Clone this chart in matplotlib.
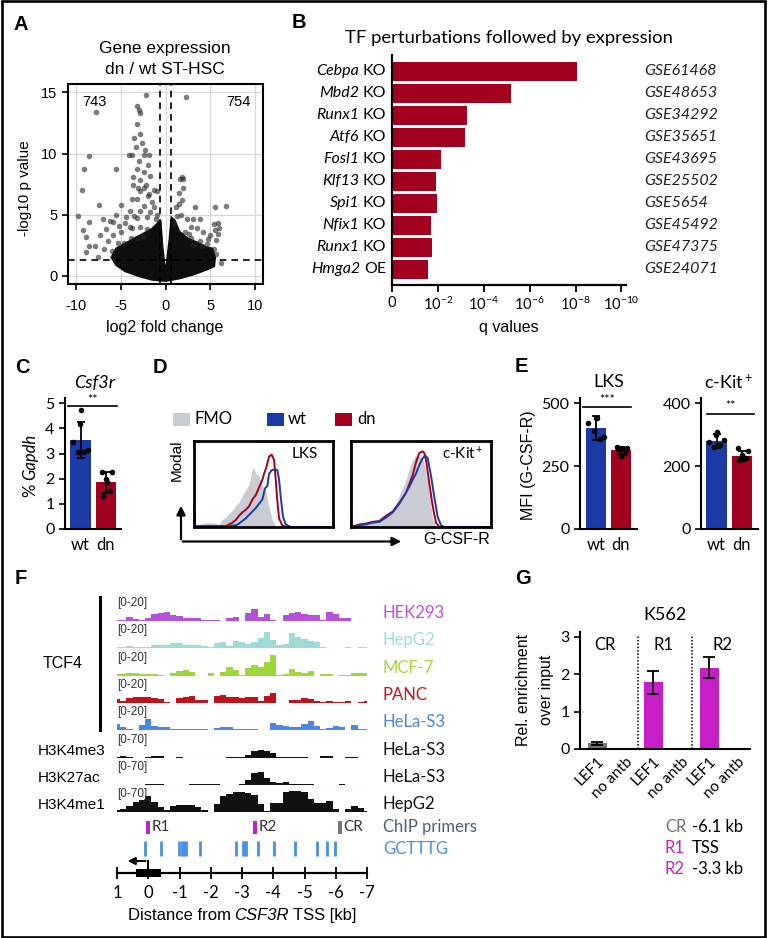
import numpy as np
import matplotlib
matplotlib.use("Agg")
import matplotlib.pyplot as plt
from matplotlib.patches import Rectangle, FancyArrowPatch
from matplotlib.transforms import blended_transform_factory

plt.rcParams['font.family'] = ['Lato', 'DejaVu Sans']
plt.rcParams['axes.unicode_minus'] = False
plt.rcParams['mathtext.fontset'] = 'custom'
plt.rcParams['mathtext.rm'] = 'Lato'
plt.rcParams['mathtext.it'] = 'Lato:italic'
plt.rcParams['mathtext.bf'] = 'Lato:bold'

ARIAL = 'Liberation Sans'
NARROW = ['Liberation Sans Narrow', 'Liberation Sans']

# ---------------- data ----------------
# A: volcano plot, outline of the dense core of genes + individual scattered genes
core_x = [-6.0, -5.5, -4.5, -3.5, -2.5, -1.5, -0.8, -0.6, -0.4, -0.15, 0.0, 0.15, 0.5, 0.7, 1.0,
          1.5, 2.5, 3.5, 4.5, 5.2, 5.5, 5.4, 4.5, 3.0, 1.5, 0.0, -1.5, -3.0, -4.5, -5.5]
core_y = [1.5, 2.2, 2.6, 3.0, 3.4, 3.8, 4.3, 4.5, 2.5, 0.8, 0.3, 0.8, 3.0, 4.7, 4.5,
          3.6, 3.0, 2.7, 2.3, 2.2, 1.5, 0.8, 0.5, 0.1, -0.2, -0.4, -0.3, 0.0, 0.4, 0.9]
vol_x = [-2.2, -7.8, -3.2, -3.0, -2.85, -3.2, -8.6, -9.1, -9.3, -5.55, -9.8, -7.4, -7.0, -9.2, -8.9,
         -8.6, -8.6, -7.9, -8.9, -7.5, -4.07, -3.7, -2.8, -2.6, -3.3, -2.45, -1.9, -3.0, -2.0, -3.2,
         -2.45, -3.65, -2.8, -1.7, -3.1, -2.45, -2.8, -1.0, -2.0, -3.7, -3.2, -1.5, -5.0, -2.45, -4.0,
         -2.8, -1.7, -3.5, -4.4, -3.2, -2.1, -5.55, -5.9, -4.0, -3.7, -2.8, -2.1, -6.6, -5.0, -5.9,
         -3.9, -3.2, -2.5, -6.4, -5.3, -4.6, -6.2, -7.3, -6.9, -6.0, -1.3, -1.1, -0.9, -3.6, -2.2,
         -2.3, -3.5, -1.3, -4.5, -5.2, -1.8,
         2.33, 1.85, 1.6, 2.0, 2.0, 1.5, 1.9, 1.5, 1.2, 3.33, 5.55, 6.8, 1.7, 5.4, 5.9,
         2.4, 3.1, 3.9, 2.8, 3.5, 4.2, 5.55, 5.9, 4.8, 5.7, 3.9, 3.1, 4.1, 5.4, 5.7,
         6.2, 2.6, 2.9, 1.3, 1.0, 2.2, 4.6, 6.0, 5.0]
vol_y = [14.8, 13.4, 13.9, 13.6, 13.3, 12.4, 9.8, 8.7, 7.05, 8.7, 4.86, 5.76, 4.6, 3.77, 3.2,
         4.4, 2.4, 2.4, 1.9, 1.5, 9.9, 9.9, 11.6, 10.9, 10.5, 9.9, 9.9, 9.4, 9.1, 8.7,
         8.5, 8.1, 7.8, 8.2, 7.2, 7.2, 6.9, 6.9, 6.5, 6.3, 6.3, 6.0, 5.8, 5.7, 5.3,
         5.3, 5.2, 4.9, 4.8, 4.7, 4.8, 5.0, 4.4, 4.0, 3.9, 4.0, 3.8, 3.8, 3.6, 3.3,
         3.1, 3.1, 3.2, 2.8, 2.7, 2.7, 4.5, 3.3, 2.2, 2.0, 5.6, 4.6, 5.0, 7.4, 7.4,
         10.3, 11.3, 7.0, 4.3, 4.1, 6.7,
         14.6, 8.1, 7.9, 7.9, 7.2, 6.8, 6.2, 5.9, 5.6, 5.6, 5.6, 5.7, 5.0, 4.2, 4.3,
         4.6, 4.6, 4.6, 4.0, 3.9, 3.6, 3.7, 3.4, 3.0, 2.9, 2.8, 2.5, 2.4, 2.2, 1.8,
         1.0, 3.4, 3.1, 4.9, 4.2, 3.6, 2.6, 3.9, 3.3]
n_down, n_up = 743, 754
fc_cut, p_cut = 0.58, 1.3

# B: TF perturbation enrichment (-log10 q)
tf_genes = ['Cebpa', 'Mbd2', 'Runx1', 'Atf6', 'Fosl1', 'Klf13', 'Spi1', 'Nfix1', 'Runx1', 'Hmga2']
tf_kind = ['KO', 'KO', 'KO', 'KO', 'KO', 'KO', 'KO', 'KO', 'KO', 'OE']
tf_gse = ['GSE61468', 'GSE48653', 'GSE34292', 'GSE35651', 'GSE43695',
          'GSE25502', 'GSE5654', 'GSE45492', 'GSE47375', 'GSE24071']
tf_score = [8.05, 5.17, 3.26, 3.17, 2.13, 1.91, 1.96, 1.70, 1.74, 1.57]

# C: Csf3r qPCR (% Gapdh)
groups = ['wt', 'dn']
csf_mean = [3.55, 1.85]
csf_sd = [0.71, 0.42]
csf_pts = [[4.73, 4.16, 3.47, 3.07, 3.07, 3.13], [2.25, 2.25, 1.85, 1.3, 1.5, 2.0]]

# D: flow histograms (x = % of display range, y = fraction of modal)
lks_fmo_x = [0, 3.6, 8.4, 13.2, 18, 20.4, 22.8, 25.2, 27.6, 30, 32.4, 34.8, 37.2, 39.6, 42, 43.2,
             44.4, 46.8, 49.2, 51.6, 54, 56.4, 58.8, 61.2, 100]
lks_fmo_y = [0.02, 0.03, 0.05, 0.05, 0.03, 0.09, 0.11, 0.16, 0.19, 0.25, 0.29, 0.37, 0.43, 0.50, 0.68,
             0.68, 0.62, 0.60, 0.48, 0.42, 0.23, 0.08, 0.01, 0, 0]
lks_dn_x = [0, 0.8, 10, 22.8, 25.2, 27.6, 30, 32.4, 34.8, 37.2, 39.6, 42, 44.4, 46.8, 49.2, 50.4,
            52.0, 54, 55.9, 57.6, 58.8, 60, 61.2, 63.5, 66, 100]
lks_dn_y = [0.22, 0.01, 0.01, 0.01, 0.03, 0.05, 0.08, 0.13, 0.17, 0.20, 0.24, 0.32, 0.37, 0.46, 0.55,
            0.62, 0.69, 0.82, 0.84, 0.78, 0.55, 0.30, 0.10, 0.02, 0, 0]
lks_wt_x = [0, 0.8, 10, 25.2, 30, 32.4, 34.8, 37.2, 39.6, 42, 44.4, 46.8, 49.2, 51.1, 52.8, 54,
            55.9, 58.3, 60, 61.2, 62.4, 64, 66, 69.5, 100]
lks_wt_y = [0.22, 0.01, 0.01, 0.01, 0.02, 0.04, 0.07, 0.10, 0.14, 0.18, 0.22, 0.27, 0.32, 0.45, 0.48,
            0.62, 0.66, 0.67, 0.66, 0.55, 0.35, 0.12, 0.03, 0, 0]
kit_fmo_x = [0, 6, 10.7, 15.5, 20.2, 25, 29.8, 32.1, 34.5, 36.9, 39.3, 41.7, 44, 46.4, 48.8, 51.2,
             53.6, 56, 58.3, 60.7, 100]
kit_fmo_y = [0.01, 0.02, 0.03, 0.05, 0.07, 0.12, 0.20, 0.27, 0.37, 0.46, 0.55, 0.68, 0.78, 0.84, 0.82,
             0.80, 0.65, 0.40, 0.10, 0, 0]
kit_dn_x = [0, 6, 10.7, 15.5, 20.2, 25, 29.8, 34.5, 39.3, 41.7, 44, 46.4, 48.8, 51.2, 52.4, 54,
            56, 58.3, 60.7, 63.1, 100]
kit_dn_y = [0, 0.03, 0.04, 0.06, 0.07, 0.13, 0.18, 0.28, 0.40, 0.50, 0.60, 0.75, 0.86, 0.88, 0.86,
            0.74, 0.50, 0.25, 0.05, 0, 0]
kit_wt_x = [0, 6, 10.7, 15.5, 20.2, 25, 29.8, 34.5, 39.3, 41.7, 44, 46.4, 48.8, 51.2, 53.1, 54.8,
            57.1, 59.5, 61.9, 64.3, 66.7, 100]
kit_wt_y = [0, 0.02, 0.03, 0.05, 0.06, 0.11, 0.17, 0.27, 0.40, 0.47, 0.55, 0.62, 0.72, 0.80, 0.83,
            0.80, 0.60, 0.35, 0.12, 0.02, 0, 0]
hist_legend = ['FMO', 'wt', 'dn']

# E: MFI (G-CSF-R)
lks_mean = [402, 312]
lks_sd = [48, 15]
lks_pts = [[439, 442, 419, 390, 359, 366], [326, 320, 323, 318, 300, 290]]
kit_mean = [280, 232]
kit_sd = [22, 15]
kit_pts = [[309, 298, 277, 261, 266, 282], [258, 248, 224, 221, 227, 234]]

# F: genome browser tracks, bins every 0.2 kb from +1 to -7 kb
track_names = ['HEK293', 'HepG2', 'MCF-7', 'PANC', 'HeLa-S3', 'HeLa-S3', 'HeLa-S3', 'HepG2']
track_marks = ['TCF4', 'TCF4', 'TCF4', 'TCF4', 'TCF4', 'H3K4me3', 'H3K27ac', 'H3K4me1']
track_range = [20, 20, 20, 20, 20, 70, 70, 70]
tr_hek = [1.2, 1.2, 3.3, 1.7, 1.2, 2.5, 5.8, 6.7, 7.8, 4.6, 3.8, 2.5, 2.1, 2.1, 1.2, 0.8, 1.2, 0.4, 2.1, 3.3,
          0.4, 6.7, 9.6, 3.3, 6.2, 0.8, 0, 5.0, 6.7, 7.5, 5.8, 5.4, 5.0, 0.8, 7.5, 5.8, 2.1, 2.1, 0, 0, 0.4]
tr_hepg2 = [0.8, 1.2, 1.4, 1.0, 0.8, 0.8, 2.5, 2.9, 2.8, 4.2, 3.8, 2.2, 2.9, 2.5, 1.4, 1.0, 4.2, 5.4, 1.7, 6.2,
            5.0, 3.3, 5.0, 8.3, 13.3, 6.7, 2.1, 3.3, 12.5, 9.2, 7.5, 5.8, 5.0, 0.8, 0.2, 0.2, 0.2, 0.8, 0.4, 1.2, 1.2]
tr_mcf7 = [1.4, 1.4, 2.1, 2.2, 1.9, 1.4, 1.4, 1.2, 0.4, 2.9, 4.2, 5.0, 3.3, 0.2, 0.2, 2.2, 0.2, 3.3, 7.5, 5.0,
           1.2, 6.7, 9.2, 7.5, 11.7, 17.5, 0.8, 1.7, 5.8, 3.3, 2.9, 3.8, 0.2, 1.4, 1.4, 0.2, 0.8, 0.8, 2.1, 2.2, 2.1]
tr_panc = [3.3, 1.7, 3.8, 5.0, 5.4, 5.0, 3.8, 3.3, 0.8, 0.2, 4.2, 4.6, 6.2, 2.5, 2.5, 0.4, 5.8, 6.7, 5.0, 5.0,
           3.8, 5.4, 4.6, 1.7, 5.8, 8.3, 0.2, 0.2, 2.5, 2.9, 4.2, 3.3, 1.7, 1.2, 1.7, 1.2, 1.2, 1.7, 0.4, 1.2, 1.7]
tr_hela = [5.0, 2.1, 1.2, 0.2, 4.2, 9.2, 3.3, 2.1, 2.9, 0.8, 1.1, 1.1, 1.2, 1.1, 0.8, 0.2, 1.7, 2.1, 2.9, 1.1,
           1.1, 1.1, 0.8, 0, 0, 5.8, 4.4, 3.3, 2.5, 2.9, 5.0, 7.8, 3.3, 1.2, 1.7, 3.1, 2.5, 0.4, 3.8, 0.8, 0.8]
tr_k4me3 = [2.9, 4.4, 2.9, 0, 0, 2.9, 5.8, 5.8, 0, 0, 1.5, 0, 0, 0, 0, 0, 0, 0, 2.9, 2.9,
            2.9, 8.8, 19.0, 22.5, 20.4, 14.6, 2.9, 2.9, 2.9, 2.9, 1.5, 0, 0, 5.8, 5.8, 0, 0, 2.9, 2.9, 0, 0]
tr_k27ac = [0, 0, 0, 0, 0, 2.9, 2.9, 2.9, 0, 0, 0, 0, 2.9, 2.9, 2.9, 2.9, 2.9, 0, 0, 0,
            1.5, 14.6, 35.0, 36.5, 20.4, 10.2, 5.8, 7.3, 2.9, 2.9, 2.9, 2.9, 0, 0, 0, 0, 2.9, 0, 0, 0, 0]
tr_k4me1 = [4.4, 8.8, 17.5, 29.2, 35.0, 45.3, 29.2, 14.6, 5.8, 17.5, 20.4, 20.4, 19.0, 14.6, 5.8, 0.9, 23.4, 46.7, 52.6, 58.4,
            58.4, 55.5, 49.6, 23.4, 2.9, 26.3, 24.8, 58.4, 59.9, 59.9, 58.4, 38.0, 26.3, 24.8, 32.1, 8.8, 0.9, 8.8, 16.1, 13.1, 1.5]
tracks = [tr_hek, tr_hepg2, tr_mcf7, tr_panc, tr_hela, tr_k4me3, tr_k27ac, tr_k4me1]
primer_names = ['R1', 'R2', 'CR']
primer_kb = [0.0, -3.41, -6.13]
motif_kb = [0.11, -0.40, -0.99, -1.07, -1.14, -1.20, -1.66, -2.82, -3.02, -3.08, -3.14,
            -3.50, -4.03, -4.71, -5.40, -5.72, -5.99]
gene_exon = (0.38, -0.40)
kb_ticks = [1, 0, -1, -2, -3, -4, -5, -6, -7]

# G: ChIP-qPCR in K562
chip_labels = ['LEF1', 'no antb', 'LEF1', 'no antb', 'LEF1', 'no antb']
chip_region = ['CR', 'R1', 'R2']
chip_mean = [0.15, 0.0, 1.78, 0.0, 2.18, 0.0]
chip_err = [0.05, 0.0, 0.30, 0.0, 0.28, 0.0]
region_desc = ['-6.1 kb', 'TSS', '-3.3 kb']

# ---------------- style ----------------
BLUE = '#1b3aa6'
RED = '#a3001f'
FMO_GRAY = '#c9cdd3'
MAGENTA = '#c81ec8'
CR_GRAY = '#6c7777'
track_colors = ['#b452dc', '#9fdbd6', '#9ed63c', '#c1121c', '#4b87e6', '#111111', '#111111', '#111111']
name_colors = ['#c04fdc', '#a0dcd8', '#a0d83c', '#c8141c', '#4a86e8', '#111111', '#111111', '#111111']

W, H = 772, 938
fig = plt.figure(figsize=(W / 100, H / 100), dpi=100)
renderer = fig.canvas.get_renderer()


def px_axes(x0, y0, x1, y1):
    return fig.add_axes([x0 / W, 1 - y1 / H, (x1 - x0) / W, (y1 - y0) / H])


def ftext(x, y, s, **kw):
    kw.setdefault('ha', 'center')
    kw.setdefault('va', 'center')
    return fig.text(x / W, 1 - y / H, s, **kw)


def rich(x, y, pieces, ha='center', rotation=0, gap=3.5, **kw):
    # pieces: list of (text, fontstyle); placed side by side in figure pixels
    texts = [fig.text(0, 0, s, fontstyle=st, **kw) for s, st in pieces]
    widths = [t.get_window_extent(renderer).width for t in texts]
    total = sum(widths) + gap * (len(texts) - 1)
    start = {'center': total / 2, 'right': total, 'left': 0}[ha]
    if rotation == 0:
        pos = x - start
        for t, w in zip(texts, widths):
            t.set_position((pos / W, 1 - y / H))
            t.set_ha('left')
            t.set_va('center')
            pos += w + gap
    else:
        pos = y + start
        for t, w in zip(texts, widths):
            t.set_rotation(90)
            t.set_position((x / W, 1 - pos / H))
            t.set_ha('center')
            t.set_va('bottom')
            pos -= w + gap


# figure frame
fig.add_artist(Rectangle((1.5 / W, 1 - 936.5 / H), 763.5 / W, 935 / H, transform=fig.transFigure,
                         fill=False, lw=1.9, ec='k'))

# panel letters
for lab, (x, y) in zip('ABCDEFG', [(21, 25), (299, 23), (22, 367), (160, 367), (521, 366), (21, 579), (523, 579)]):
    ftext(x, y, lab, fontsize=14.5, fontweight='bold', family=ARIAL)

# ---------------- A ----------------
axA = px_axes(68, 84, 263, 284)
axA.set_xlim(-10.9, 10.9)
axA.set_ylim(-0.68, 15.69)
axA.set_xticks([-10, -5, 0, 5, 10])
axA.set_yticks([0, 5, 10, 15])
axA.grid(True, color='#d3d8da', lw=0.9)
axA.set_axisbelow(True)
axA.fill(core_x, core_y, color='#0e0e0e', ec='#0e0e0e', lw=2, zorder=2)
axA.scatter(vol_x, vol_y, s=16, c='#262626', alpha=0.6, lw=0, zorder=3)
for xv in (-fc_cut, fc_cut):
    axA.axvline(xv, color='k', lw=1.2, ls=(0, (4, 3)), zorder=4)
axA.axhline(p_cut, color='k', lw=1.2, ls=(0, (4, 3)), zorder=4)
for sp in axA.spines.values():
    sp.set_linewidth(1.5)
axA.tick_params(length=4, width=1.2, labelsize=10.5)
axA.tick_params(axis='x', pad=7)
for t in axA.get_xticklabels() + axA.get_yticklabels():
    t.set_family(ARIAL)
axA.text(-8.0, 14.2, str(n_down), ha='center', va='center', fontsize=10.5, family=ARIAL)
axA.text(8.2, 14.2, str(n_up), ha='center', va='center', fontsize=10.5, family=ARIAL)
ftext(165, 48, 'Gene expression', fontsize=12.5, family=ARIAL)
ftext(165, 69, 'dn / wt ST-HSC', fontsize=12.5, family=ARIAL)
ftext(25, 188, '-log10 p value', rotation=90, fontsize=11, family=ARIAL)
ftext(165, 327, 'log2 fold change', fontsize=11.5, family=NARROW)

# ---------------- B ----------------
axB = px_axes(392, 55, 626, 285)
ypos = np.arange(len(tf_genes))
axB.barh(ypos, tf_score, height=0.88, color=RED)
axB.set_ylim(9.71, -0.74)
axB.set_xlim(0, 10.2)
axB.set_yticks([])
axB.spines[['top', 'right']].set_visible(False)
axB.spines[['left', 'bottom']].set_linewidth(1.6)
axB.set_xticks([0, 2, 4, 6, 8, 10])
axB.set_xticklabels(['0'] + [rf'$10^{{-{k}}}$' for k in (2, 4, 6, 8, 10)])
axB.tick_params(axis='x', length=5, width=1.3, labelsize=10.5, pad=3)
trB = blended_transform_factory(fig.transFigure, axB.transData)
for i in ypos:
    row_y = (1 - axB.transData.transform((0, i))[1] / fig.bbox.height) * H
    rich(386, row_y, [(tf_genes[i], 'italic'), (tf_kind[i], 'normal')], ha='right', fontsize=11.5)
    axB.text(644 / W, i, tf_gse[i], transform=trB, ha='left', va='center', fontsize=11.5,
             style='italic', color='#222222')
ftext(509, 38, 'TF perturbations followed by expression', fontsize=13.3)
ftext(509, 327, 'q values', fontsize=11.5, family=NARROW)


# ---------------- bar + dots helper ----------------
def dot_bars(ax, means, sds, pts, jit, width):
    xs = np.arange(len(means))
    ax.bar(xs, means, width=width, color=[BLUE, RED], zorder=1)
    ax.errorbar(xs, means, yerr=sds, fmt='none', ecolor='k', elinewidth=1.3, capsize=3,
                capthick=1.3, zorder=3)
    for i in xs:
        ax.scatter(i + np.array(jit[i]), pts[i], s=16, color='k', lw=0, zorder=4)
    ax.set_xticks(xs)
    ax.set_xticklabels(groups)
    ax.spines[['top', 'right']].set_visible(False)
    ax.spines[['left', 'bottom']].set_linewidth(1.5)
    ax.tick_params(axis='y', length=4, width=1.2, labelsize=11.5)
    ax.tick_params(axis='x', length=0, labelsize=12, pad=6)


def sig(ax, x0, x1, y, stars, dy):
    ax.plot([x0, x1], [y, y], color='k', lw=1.2, clip_on=False)
    ax.text((x0 + x1) / 2, y + dy, stars, ha='center', va='bottom', fontsize=9, clip_on=False)


jit6 = [[0.02, -0.01, -0.31, -0.09, 0.15, 0.31], [-0.17, 0.25, 0.03, -0.13, 0.15, 0.0]]

# ---------------- C ----------------
axC = px_axes(65, 398, 121, 529)
dot_bars(axC, csf_mean, csf_sd, csf_pts, jit6, 0.82)
axC.set_xlim(-0.61, 1.59)
axC.set_ylim(0, 5.21)
axC.set_yticks([0, 1, 2, 3, 4, 5])
sig(axC, -0.49, 1.43, 4.89, '**', 0.02)
ftext(95, 383, 'Csf3r', fontsize=13, style='italic')
rich(30, 465, [('%', 'normal'), ('Gapdh', 'italic')], rotation=90, fontsize=12)

# ---------------- D ----------------
legend_cols = [FMO_GRAY, BLUE, RED]
for (x, tx), name, col in zip([(173, 195), (267, 288), (335, 357)], hist_legend, legend_cols):
    fig.add_artist(Rectangle((x / W, 1 - 426 / H), 17 / W, 13 / H, transform=fig.transFigure,
                             color=col, lw=0))
    ftext(tx, 419.5, name, fontsize=12, ha='left')


def hist_box(ax, fx, fy, wx, wy, dx, dy, label):
    ax.fill_between(fx, fy, color=FMO_GRAY, lw=0)
    ax.plot(dx, dy, color=RED, lw=1.4)
    ax.plot(wx, wy, color=BLUE, lw=1.4)
    ax.set_xlim(0, 100)
    ax.set_ylim(0, 1.0)
    ax.set_xticks([])
    ax.set_yticks([])
    for sp in ax.spines.values():
        sp.set_linewidth(2)
    ax.text(0.80, 0.85, label, transform=ax.transAxes, ha='center', va='center', fontsize=11)


axD1 = px_axes(194, 441, 333, 527)
hist_box(axD1, lks_fmo_x, lks_fmo_y, lks_wt_x, lks_wt_y, lks_dn_x, lks_dn_y, 'LKS')
axD2 = px_axes(351, 441, 491, 527)
hist_box(axD2, kit_fmo_x, kit_fmo_y, kit_wt_x, kit_wt_y, kit_dn_x, kit_dn_y, r'c-Kit$^+$')
for p0, p1 in [((181, 542), (181, 503)), ((180, 541.5), (404, 541.5))]:
    fig.add_artist(FancyArrowPatch((p0[0] / W, 1 - p0[1] / H), (p1[0] / W, 1 - p1[1] / H),
                                   transform=fig.transFigure, arrowstyle='-|>', mutation_scale=13,
                                   lw=1.6, color='k'))
ftext(177, 460, 'Modal', rotation=90, fontsize=11, family=NARROW)
ftext(490, 540, 'G-CSF-R', fontsize=11.5, family=NARROW, ha='right')

# ---------------- E ----------------
axE1 = px_axes(580, 398, 637, 529)
dot_bars(axE1, lks_mean, lks_sd, lks_pts, jit6, 0.8)
axE1.set_xlim(-0.64, 1.64)
axE1.set_ylim(0, 520)
axE1.set_yticks([0, 250, 500])
sig(axE1, -0.51, 1.39, 485, '***', 5)
ftext(609, 382, 'LKS', fontsize=13)

axE2 = px_axes(701, 398, 758, 529)
dot_bars(axE2, kit_mean, kit_sd, kit_pts, jit6, 0.8)
axE2.set_xlim(-0.61, 1.63)
axE2.set_ylim(0, 417)
axE2.set_yticks([0, 200, 400])
sig(axE2, -0.38, 1.47, 367, '**', 6)
ftext(728, 382, r'c-Kit$^+$', fontsize=13)
ftext(528, 465, 'MFI (G-CSF-R)', rotation=90, fontsize=11.5, family=NARROW)

# ---------------- F ----------------
bins = np.round(np.arange(1, -7.01, -0.2), 1)
baselines = [621, 648, 676, 703, 730, 758, 785, 812]
for vals, base, rng, col, name, ncol in zip(tracks, baselines, track_range, track_colors,
                                            track_names, name_colors):
    ax = px_axes(117, base - 24, 367, base)
    ax.fill_between(bins, vals, step='mid', color=col, lw=0)
    ax.axhline(0, color='#c4c4c4', lw=0.8, zorder=0)
    ax.set_xlim(1.0, -7.0)
    ax.set_ylim(0, rng)
    ax.axis('off')
    ftext(117, base - 18, f'[0-{rng}]', fontsize=8.5, family=ARIAL, ha='left', color='#333333')
    ftext(383, base - 8, name, fontsize=12, ha='left', color=ncol)
ftext(43, 663, 'TCF4', fontsize=11.5, family=ARIAL, ha='left')
fig.add_artist(plt.Line2D([100 / W, 100 / W], [1 - 597 / H, 1 - 730 / H], color='k', lw=2.2))
for mark, base in zip(track_marks[5:], baselines[5:]):
    ftext(38, base - 7, mark, fontsize=11, family=ARIAL, ha='left')
ftext(383, 826.7, 'ChIP primers', fontsize=12, ha='left', color='#4a5d7e')
ftext(383, 849.3, 'GCTTTG', fontsize=12, ha='left', color='#4a90e2')

axF = px_axes(117, 815, 367, 873)
axF.set_xlim(1.0, -7.0)
axF.set_ylim(873, 815)
axF.spines[['top', 'right', 'left']].set_visible(False)
axF.spines['bottom'].set_linewidth(1.6)
axF.set_yticks([])
axF.set_xticks(kb_ticks)
axF.set_xticklabels([str(k) for k in kb_ticks])
axF.tick_params(axis='x', direction='inout', length=9, width=1.3, labelsize=12, pad=4)
primer_cols = [MAGENTA, MAGENTA, CR_GRAY]
for name, kb, col in zip(primer_names, primer_kb, primer_cols):
    axF.add_patch(Rectangle((kb + 0.06, 821), -0.12, 12.5, color=col, lw=0))
    axF.text(kb - 0.12, 827, name, ha='left', va='center', fontsize=11, color='#333333')
axF.vlines(motif_kb, 841, 856, color='#4a8fe6', lw=2)
axF.add_patch(Rectangle((gene_exon[0], 869), gene_exon[1] - gene_exon[0], 8, color='k', lw=0,
                        clip_on=False, zorder=3))
axF.plot([0, 0], [870, 861], color='k', lw=1.4, clip_on=False)
axF.annotate('', xy=(0.75, 861), xytext=(0, 861),
             arrowprops=dict(arrowstyle='-|>', color='k', lw=1.4, mutation_scale=11))
rich(242, 915, [('Distance from', 'normal'), ('CSF3R', 'italic'), ('TSS [kb]', 'normal')],
     fontsize=12, family=NARROW)

# ---------------- G ----------------
axG = px_axes(580, 632, 750, 749)
xg = np.arange(len(chip_labels))
gcols = [CR_GRAY, CR_GRAY, MAGENTA, MAGENTA, MAGENTA, MAGENTA]
axG.bar(xg, chip_mean, width=0.68, color=gcols, zorder=1)
has = [i for i in xg if chip_mean[i] > 0]
axG.errorbar(xg[has], np.array(chip_mean)[has], yerr=np.array(chip_err)[has], fmt='none',
             ecolor='k', elinewidth=1.3, capsize=4, capthick=1.3, zorder=3)
axG.set_xlim(-0.61, 5.46)
axG.set_ylim(0, 3.13)
axG.set_yticks([0, 1, 2, 3])
axG.set_xticks(xg)
axG.set_xticklabels(chip_labels, rotation=45, ha='right', rotation_mode='anchor')
axG.spines[['top', 'right']].set_visible(False)
axG.spines[['left', 'bottom']].set_linewidth(1.5)
axG.tick_params(axis='y', length=4, width=1.2, labelsize=11.5)
axG.tick_params(axis='x', length=0, labelsize=11, pad=4)
for xs in (1.45, 3.4):
    axG.plot([xs, xs], [0, 3.05], color='k', lw=1.1, ls=(0, (1, 1.2)))
for name, xt in zip(chip_region, (0.29, 2.37, 4.48)):
    axG.text(xt, 2.79, name, ha='center', va='center', fontsize=12)
ftext(665, 615, 'K562', fontsize=13)
ftext(523, 690, 'Rel. enrichment', rotation=90, fontsize=11.5, family=NARROW)
ftext(547, 690, 'over input', rotation=90, fontsize=11.5, family=NARROW)
for name, desc, col, y in zip(chip_region, region_desc, [CR_GRAY, MAGENTA, MAGENTA], (827, 848, 869)):
    ftext(665, y, name, fontsize=12, ha='left', color=col)
    ftext(692, y, desc, fontsize=12, ha='left')

fig.savefig('out.png', dpi=100)
